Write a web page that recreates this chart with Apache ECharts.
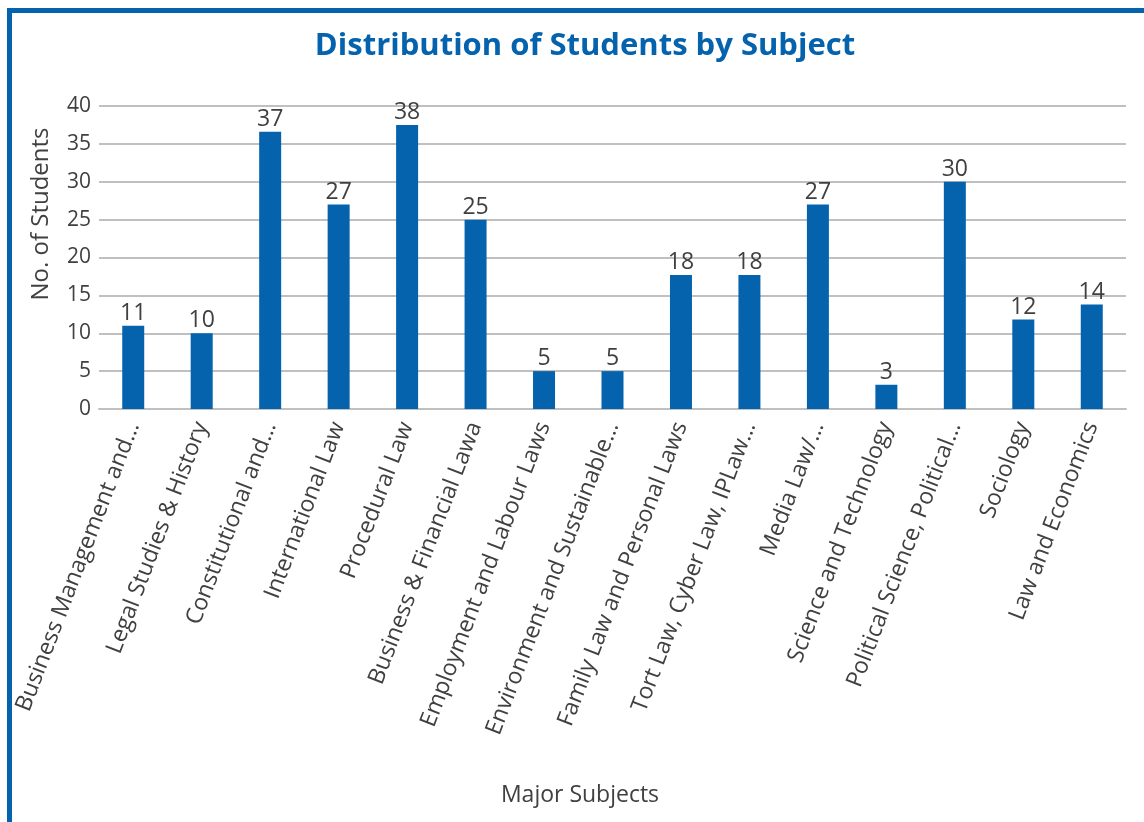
<!DOCTYPE html>
<html>
<head>
<meta charset="utf-8">
<script src="https://cdn.jsdelivr.net/npm/echarts@6/dist/echarts.min.js"></script>
<style>
html,body{margin:0;padding:0;background:#fff;}
#chart{width:1144px;height:822px;}
</style>
</head>
<body>
<div id="chart"></div>
<script>
const categories = [
  "Business Management and…",
  "Legal Studies & History",
  "Constitutional and…",
  "International Law",
  "Procedural Law",
  "Business & Financial Lawa",
  "Employment and Labour Laws",
  "Environment and Sustainable…",
  "Family Law and Personal Laws",
  "Tort Law, Cyber Law, IPLaw…",
  "Media Law/…",
  "Science and Technology",
  "Political Science, Political…",
  "Sociology",
  "Law and Economics"
];
const students = [11, 10, 36.6, 27, 37.5, 25, 5, 5, 17.7, 17.7, 27, 3.2, 30, 11.8, 13.8];
const yTicks = [0, 5, 10, 15, 20, 25, 30, 35, 40];

const blue = '#0563ae';
const textCol = '#404040';
const font = '"Open Sans", "Noto Sans", sans-serif';

const chart = echarts.init(document.getElementById('chart'));
chart.setOption({
  backgroundColor: '#fff',
  animation: false,
  title: {
    text: 'Distribution of Students by Subject',
    left: 580,
    textAlign: 'center',
    top: 26,
    textStyle: { color: blue, fontSize: 31, fontWeight: 'bold', fontFamily: font }
  },
  graphic: [
    { type: 'rect', shape: { x: 7, y: 8, width: 5, height: 814 }, style: { fill: blue } },
    { type: 'rect', shape: { x: 7, y: 8, width: 1137, height: 5 }, style: { fill: blue } },
    { type: 'text', x: 580, y: 795, style: { text: 'Major Subjects', fill: textCol, fontSize: 23, fontFamily: font, align: 'center', verticalAlign: 'middle' } },
    { type: 'text', x: 41, y: 214, rotation: Math.PI / 2, style: { text: 'No. of Students', fill: textCol, fontSize: 24, fontFamily: font, align: 'center', verticalAlign: 'middle' } }
  ],
  grid: { left: 99, right: 18, top: 106, bottom: 413, containLabel: false },
  xAxis: {
    type: 'category',
    data: categories,
    axisLine: { show: true, lineStyle: { color: '#c0c0c0', width: 2 } },
    axisTick: { show: false },
    axisLabel: {
      interval: 0, rotate: 69, color: textCol, fontSize: 23, fontFamily: font, margin: 14
    }
  },
  yAxis: {
    type: 'value',
    min: yTicks[0], max: yTicks[yTicks.length - 1], interval: 5,
    axisLine: { show: false },
    axisTick: { show: false },
    axisLabel: { color: textCol, fontSize: 21, fontFamily: font, margin: 8 },
    splitLine: { lineStyle: { color: '#c0c0c0', width: 2 } }
  },
  series: [{
    type: 'bar',
    data: students,
    barWidth: 22,
    itemStyle: { color: blue },
    label: {
      show: true, position: 'top', distance: 1,
      color: textCol, fontSize: 23, fontFamily: font,
      formatter: p => Math.round(p.value)
    }
  }]
});
</script>
</body>
</html>
